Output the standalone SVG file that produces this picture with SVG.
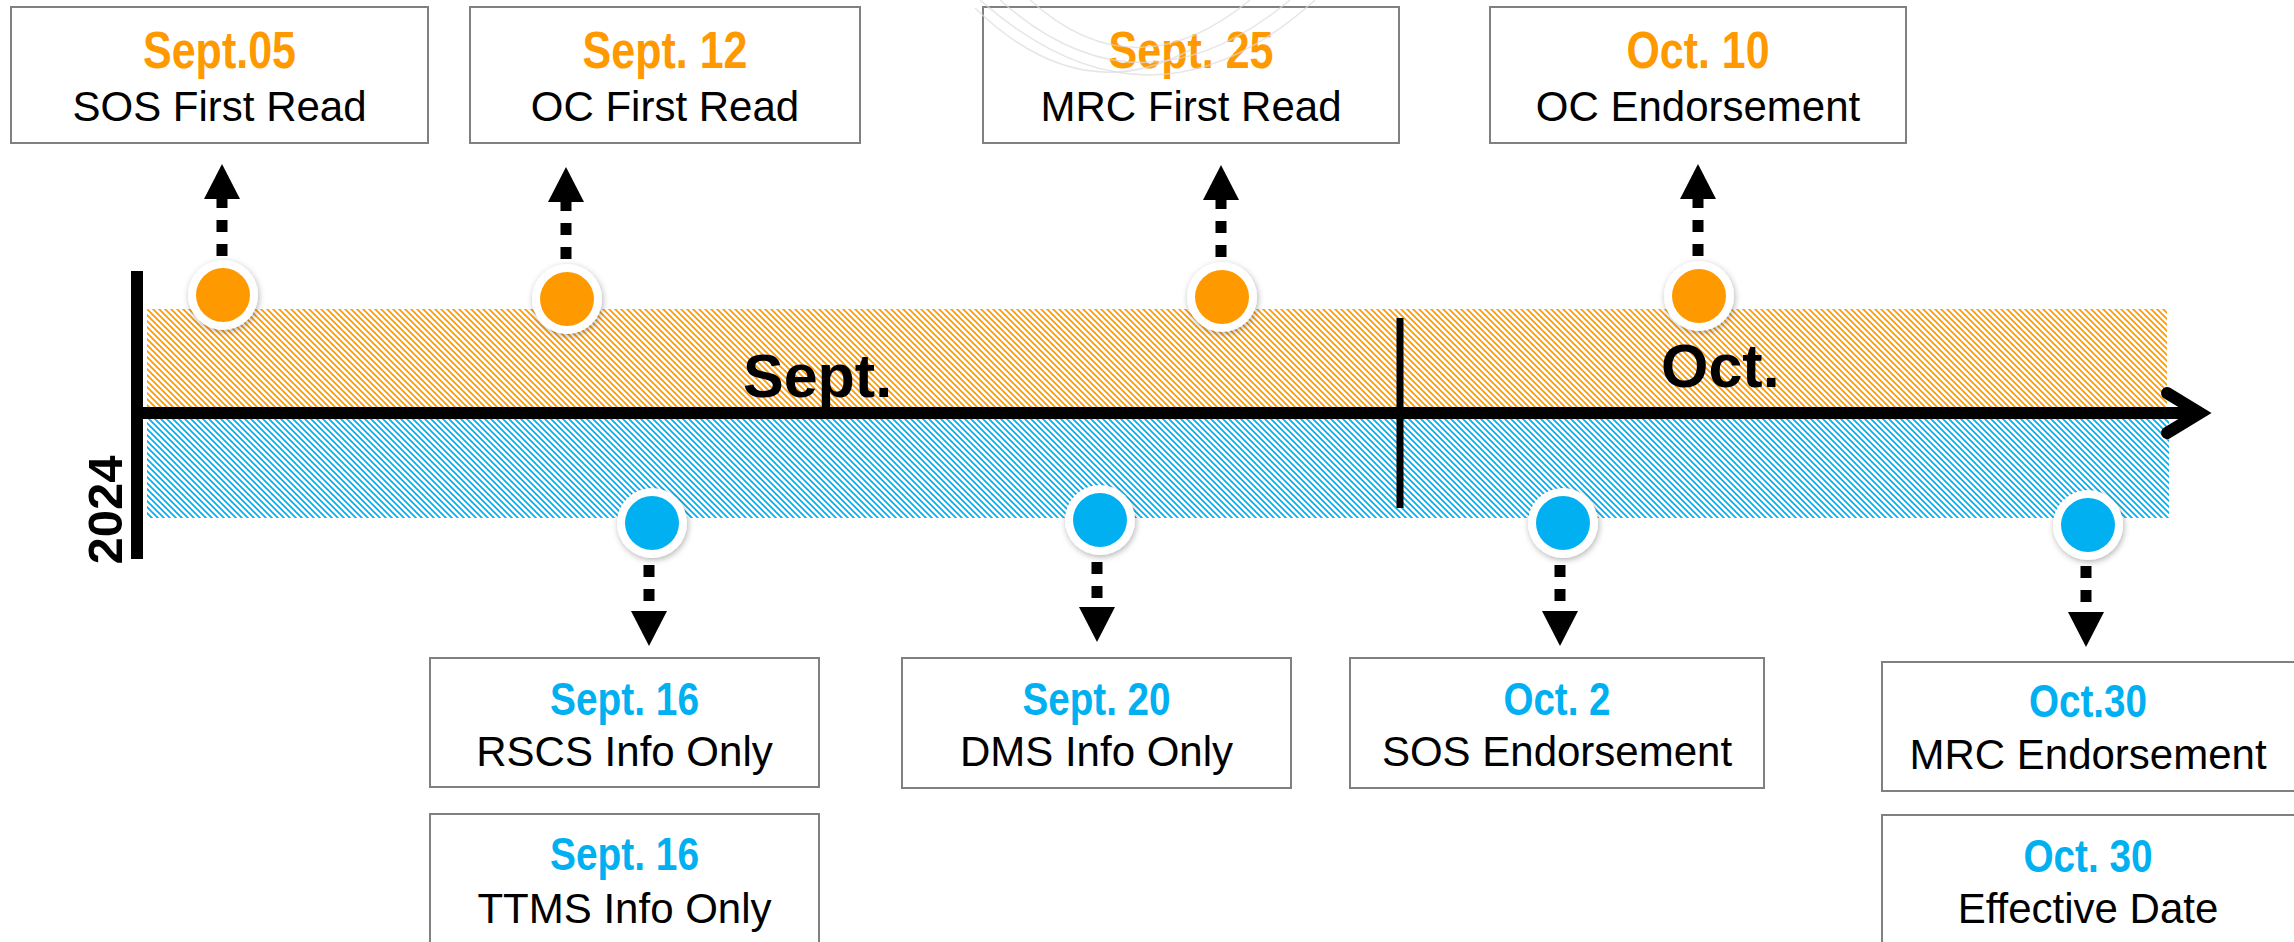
<svg xmlns="http://www.w3.org/2000/svg" width="2294" height="942" viewBox="0 0 2294 942">
<style>
.box{fill:#fff;stroke:#808080;stroke-width:2}
.dt{font-family:'Liberation Sans Narrow','Liberation Sans',Arial,sans-serif;font-weight:bold;text-anchor:middle}
.top{font-size:52px;fill:#FF9900}
.bot{font-size:47px;fill:#00B0F0}
.nm{font-family:'Liberation Sans',Arial,sans-serif;font-size:42px;fill:#000;text-anchor:middle}
.mon{font-family:'Liberation Sans',Arial,sans-serif;font-size:61px;font-weight:bold;fill:#000}
.ring{fill:#fff;filter:url(#sh)}
.or{fill:#FF9900}
.bl{fill:#00B0F0}
.con{stroke:#000;stroke-width:11;stroke-dasharray:12 12;fill:none;marker-end:url(#ah)}
.wm{fill:none;stroke:#dcdcdc;stroke-width:1.5;opacity:0.7}
</style>
<defs>
<pattern id="hOr" patternUnits="userSpaceOnUse" width="6" height="6">
<path d="M0,0 L6,6 M-1,5 L1,7 M5,-1 L7,1" stroke="#FF9900" stroke-width="1.7"/>
</pattern>
<pattern id="hBl" patternUnits="userSpaceOnUse" width="6" height="6">
<path d="M0,0 L6,6 M-1,5 L1,7 M5,-1 L7,1" stroke="#00B0F0" stroke-width="1.7"/>
</pattern>
<filter id="sh" x="-30%" y="-30%" width="160%" height="160%">
<feDropShadow dx="1" dy="2" stdDeviation="3" flood-color="#000" flood-opacity="0.3"/>
</filter>
<marker id="ah" viewBox="0 0 35 36" refX="0" refY="18" markerWidth="35" markerHeight="36" markerUnits="userSpaceOnUse" orient="auto">
<path d="M0,0 L35,18 L0,36 z" fill="#000"/>
</marker>
</defs>
<rect width="2294" height="942" fill="#fff"/>

<g id="bands">
<rect x="147" y="309" width="2020" height="104" fill="url(#hOr)"/>
<rect x="147" y="413" width="2022" height="105" fill="url(#hBl)"/>
</g>

<g id="axis">
<line x1="137" y1="271" x2="137" y2="559" stroke="#000" stroke-width="12"/>
<line x1="131" y1="413" x2="2200" y2="413" stroke="#000" stroke-width="12"/>
<polyline points="2167,393 2200,413 2167,433" fill="none" stroke="#000" stroke-width="12" stroke-linecap="round" stroke-linejoin="miter"/>
<line x1="1400" y1="318" x2="1400" y2="508" stroke="#000" stroke-width="7"/>
<text class="mon" x="743" y="397">Sept.</text>
<text class="mon" x="1661" y="387">Oct.</text>
<text transform="translate(122,510) rotate(-90)" font-family="'Liberation Sans',Arial,sans-serif" font-size="49" font-weight="bold" text-anchor="middle" fill="#000">2024</text>
</g>

<g id="connectors">
<line class="con" x1="222" y1="256" x2="222" y2="199"/>
<line class="con" x1="566" y1="259" x2="566" y2="202"/>
<line class="con" x1="1221" y1="257" x2="1221" y2="200"/>
<line class="con" x1="1698" y1="256" x2="1698" y2="199"/>
<line class="con" x1="649" y1="565" x2="649" y2="611"/>
<line class="con" x1="1097" y1="562" x2="1097" y2="607"/>
<line class="con" x1="1560" y1="565" x2="1560" y2="611"/>
<line class="con" x1="2086" y1="566" x2="2086" y2="612"/>
</g>

<g id="dot-sep05"><circle class="ring" cx="223" cy="295" r="35"/><circle class="or" cx="223" cy="295" r="27"/></g>
<g id="dot-sep12"><circle class="ring" cx="567" cy="299" r="35"/><circle class="or" cx="567" cy="299" r="27"/></g>
<g id="dot-sep25"><circle class="ring" cx="1222" cy="297" r="35"/><circle class="or" cx="1222" cy="297" r="27"/></g>
<g id="dot-oct10"><circle class="ring" cx="1699" cy="296" r="35"/><circle class="or" cx="1699" cy="296" r="27"/></g>
<g id="dot-sep16"><circle class="ring" cx="652" cy="523" r="35"/><circle class="bl" cx="652" cy="523" r="27"/></g>
<g id="dot-sep20"><circle class="ring" cx="1100" cy="520" r="35"/><circle class="bl" cx="1100" cy="520" r="27"/></g>
<g id="dot-oct2"><circle class="ring" cx="1563" cy="523" r="35"/><circle class="bl" cx="1563" cy="523" r="27"/></g>
<g id="dot-oct30"><circle class="ring" cx="2088" cy="525" r="35"/><circle class="bl" cx="2088" cy="525" r="27"/></g>

<g id="n-sos-first">
<rect class="box" x="11" y="7" width="417" height="136"/>
<text class="dt top" x="219.5" y="68" textLength="153" lengthAdjust="spacingAndGlyphs">Sept.05</text>
<text class="nm" x="219.5" y="121">SOS First Read</text>
</g>
<g id="n-oc-first">
<rect class="box" x="470" y="7" width="390" height="136"/>
<text class="dt top" x="665" y="68" textLength="165" lengthAdjust="spacingAndGlyphs">Sept. 12</text>
<text class="nm" x="665" y="121">OC First Read</text>
</g>
<g id="n-mrc-first">
<rect class="box" x="983" y="7" width="416" height="136"/>
<text class="dt top" x="1191" y="68" textLength="165" lengthAdjust="spacingAndGlyphs">Sept. 25</text>
<text class="nm" x="1191" y="121">MRC First Read</text>
</g>
<g id="n-oc-endorse">
<rect class="box" x="1490" y="7" width="416" height="136"/>
<text class="dt top" x="1698" y="68" textLength="143" lengthAdjust="spacingAndGlyphs">Oct. 10</text>
<text class="nm" x="1698" y="121">OC Endorsement</text>
</g>

<g id="n-rscs">
<rect class="box" x="430" y="658" width="389" height="129"/>
<text class="dt bot" x="624.5" y="715" textLength="149" lengthAdjust="spacingAndGlyphs">Sept. 16</text>
<text class="nm" x="624.5" y="766">RSCS Info Only</text>
</g>
<g id="n-ttms">
<rect class="box" x="430" y="814" width="389" height="140"/>
<text class="dt bot" x="624.5" y="870" textLength="149" lengthAdjust="spacingAndGlyphs">Sept. 16</text>
<text class="nm" x="624.5" y="923">TTMS Info Only</text>
</g>
<g id="n-dms">
<rect class="box" x="902" y="658" width="389" height="130"/>
<text class="dt bot" x="1096.5" y="715" textLength="148" lengthAdjust="spacingAndGlyphs">Sept. 20</text>
<text class="nm" x="1096.5" y="766">DMS Info Only</text>
</g>
<g id="n-sos-endorse">
<rect class="box" x="1350" y="658" width="414" height="130"/>
<text class="dt bot" x="1557" y="715" textLength="107" lengthAdjust="spacingAndGlyphs">Oct. 2</text>
<text class="nm" x="1557" y="766">SOS Endorsement</text>
</g>
<g id="n-mrc-endorse">
<rect class="box" x="1882" y="662" width="420" height="129"/>
<text class="dt bot" x="2088" y="717" textLength="118" lengthAdjust="spacingAndGlyphs">Oct.30</text>
<text class="nm" x="2088" y="769">MRC Endorsement</text>
</g>
<g id="n-effective">
<rect class="box" x="1882" y="815" width="420" height="140"/>
<text class="dt bot" x="2088" y="872" textLength="129" lengthAdjust="spacingAndGlyphs">Oct. 30</text>
<text class="nm" x="2088" y="923">Effective Date</text>
</g>

<g id="watermark">
<path class="wm" d="M980,0 Q1150,150 1315,0"/>
<path class="wm" d="M1000,0 Q1140,125 1290,0"/>
<path class="wm" d="M1030,0 Q1135,95 1250,0"/>
<path class="wm" d="M975,8 Q1080,110 1190,50"/>
</g>
</svg>
